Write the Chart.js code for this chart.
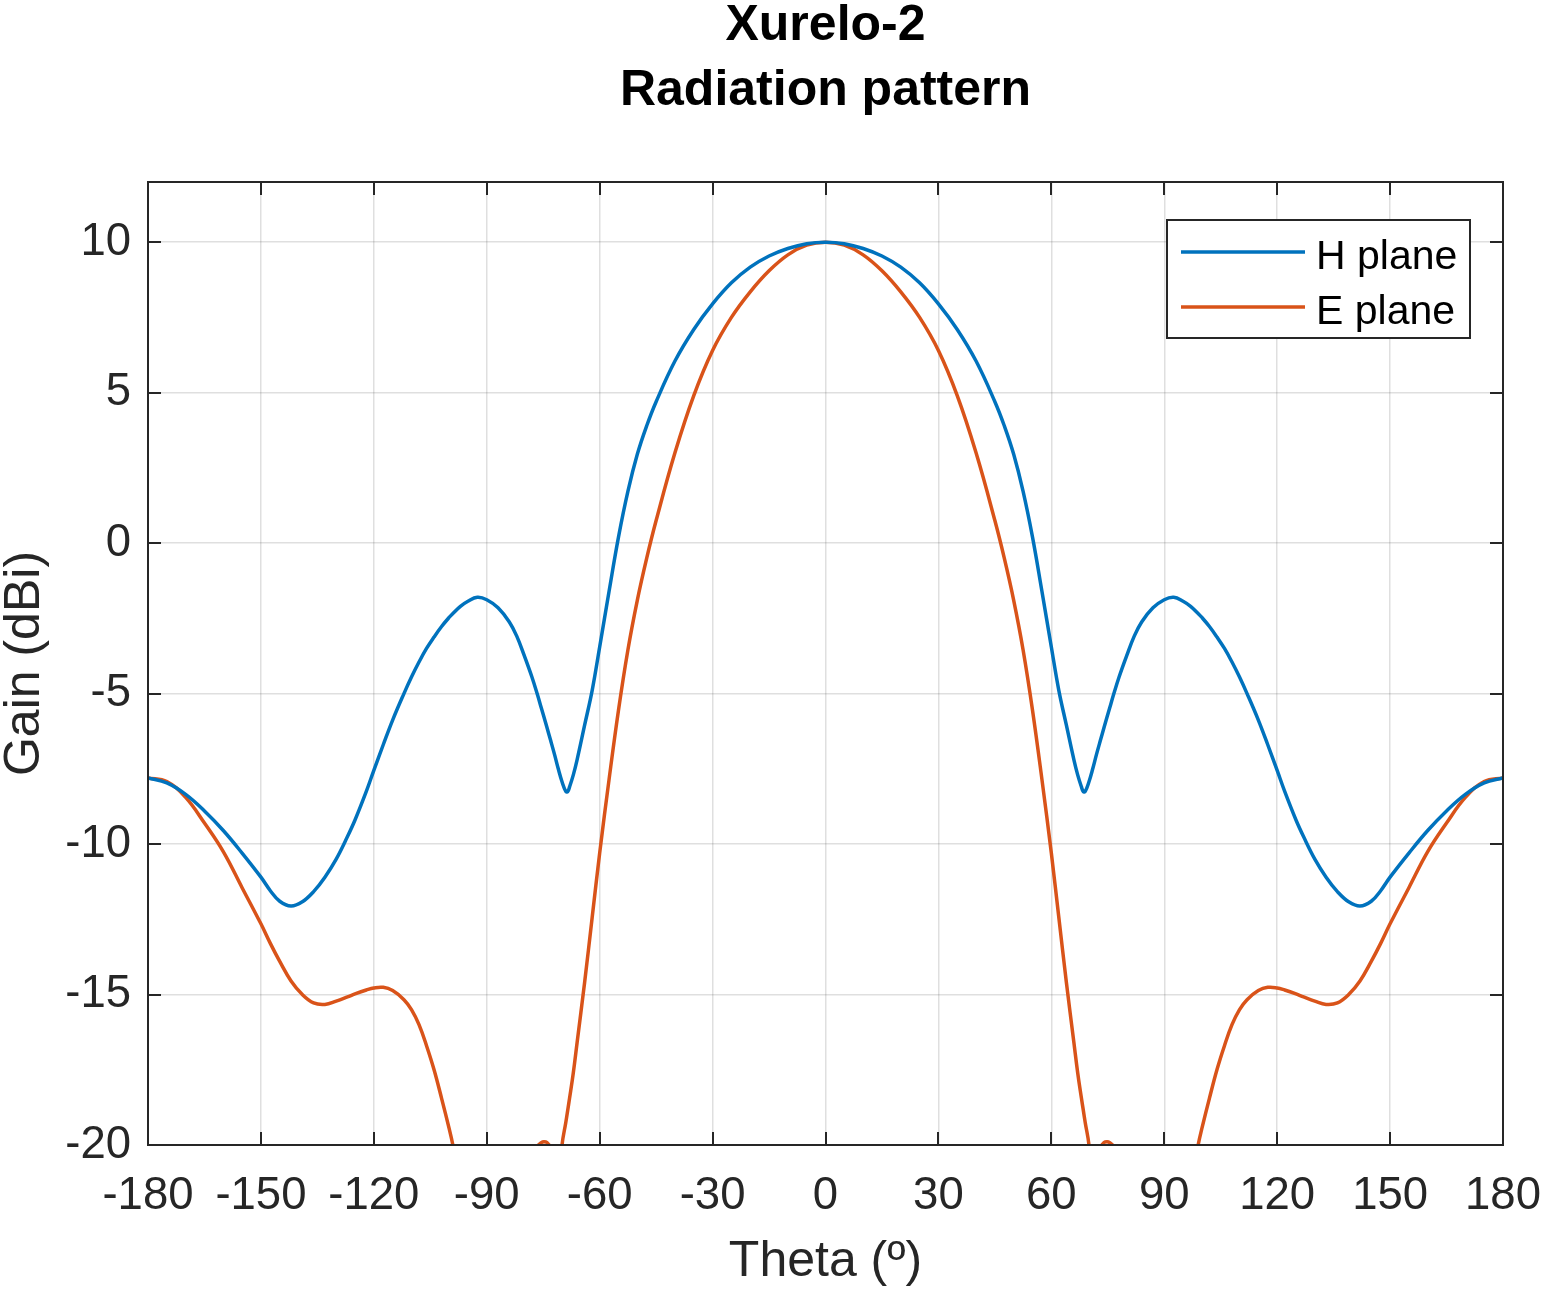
<!DOCTYPE html>
<html>
<head>
<meta charset="utf-8">
<script src="https://cdn.jsdelivr.net/npm/chart.js@4.4.1/dist/chart.umd.min.js"></script>
<style>
html,body{margin:0;padding:0;background:#fff;}
#wrap{width:1542px;height:1290px;}
</style>
</head>
<body>
<div id="wrap"><canvas id="c" width="1542" height="1290"></canvas></div>
<script>
const titleLines = ['Xurelo-2', 'Radiation pattern'];
const xAxisTitle = 'Theta (º)';
const yAxisTitle = 'Gain (dBi)';
const seriesNames = ['H plane', 'E plane'];
const xTicks = [-180, -150, -120, -90, -60, -30, 0, 30, 60, 90, 120, 150, 180];
const yTicks = [-20, -15, -10, -5, 0, 5, 10];

const theta = [
  -180,-175,-170,-165,-160,-155,-150,-147.5,-145,-142,-139,-136,-133,-130,-127,-125,-122,-120,-117.5,-115,-112,-110,-108,-106,-104,-102,-100,-99,-97,-95,-92.5,-90,-87,-84,-82,-80,-78,-76.5,-75.5,-74.8,-74,-73,-72,-71,-70,-69,-68.5,-68,-67,-66,-64,-62,-60,-57.5,-55,-52.5,-50,-47.5,-45,-40,-35,-30,-25,-20,-15,-10,-5,
  0,
  5,10,15,20,25,30,35,40,45,47.5,50,52.5,55,57.5,60,62,64,66,67,68,68.5,69,70,71,72,73,74,74.8,75.5,76.5,78,80,82,84,87,90,92.5,95,97,99,100,102,104,106,108,110,112,115,117.5,120,122,125,127,130,133,136,139,142,145,147.5,150,155,160,165,170,175,180
];

const hPlane = [
  -7.8,-7.97,-8.35,-8.9,-9.55,-10.3,-11.1,-11.55,-11.9,-12.06,-11.92,-11.58,-11.1,-10.5,-9.75,-9.2,-8.25,-7.55,-6.7,-5.88,-5.0,-4.45,-3.95,-3.5,-3.12,-2.77,-2.47,-2.34,-2.1,-1.93,-1.8,-1.88,-2.15,-2.62,-3.1,-3.75,-4.45,-5.05,-5.48,-5.78,-6.13,-6.57,-7.02,-7.5,-7.93,-8.25,-8.26,-8.1,-7.7,-7.2,-6.05,-4.9,-3.45,-1.6,0.2,1.72,2.95,3.9,4.7,6.05,7.1,7.95,8.65,9.17,9.54,9.79,9.95,
  10,
  9.95,9.79,9.54,9.17,8.65,7.95,7.1,6.05,4.7,3.9,2.95,1.72,0.2,-1.6,-3.45,-4.9,-6.05,-7.2,-7.7,-8.1,-8.26,-8.25,-7.93,-7.5,-7.02,-6.57,-6.13,-5.78,-5.48,-5.05,-4.45,-3.75,-3.1,-2.62,-2.15,-1.88,-1.8,-1.93,-2.1,-2.34,-2.47,-2.77,-3.12,-3.5,-3.95,-4.45,-5.0,-5.88,-6.7,-7.55,-8.25,-9.2,-9.75,-10.5,-11.1,-11.58,-11.92,-12.06,-11.9,-11.55,-11.1,-10.3,-9.55,-8.9,-8.35,-7.97,-7.8
];

const ePlane = [
  -7.8,-7.92,-8.45,-9.3,-10.25,-11.45,-12.65,-13.3,-13.9,-14.55,-15.0,-15.28,-15.33,-15.22,-15.08,-14.98,-14.85,-14.78,-14.76,-14.87,-15.17,-15.5,-16.0,-16.7,-17.5,-18.45,-19.45,-20.0,-21.3,-23,-26,-29,-31,-28,-25.5,-23.2,-21.2,-20.05,-19.92,-19.89,-19.92,-20.1,-21.2,-21.6,-20.0,-19.25,-18.85,-18.45,-17.6,-16.6,-14.6,-12.45,-10.3,-7.85,-5.55,-3.55,-1.9,-0.5,0.75,3.0,4.9,6.4,7.5,8.35,9.05,9.58,9.9,
  10,
  9.9,9.58,9.05,8.35,7.5,6.4,4.9,3.0,0.75,-0.5,-1.9,-3.55,-5.55,-7.85,-10.3,-12.45,-14.6,-16.6,-17.6,-18.45,-18.85,-19.25,-20.0,-21.6,-21.2,-20.1,-19.92,-19.89,-19.92,-20.05,-21.2,-23.2,-25.5,-28,-31,-29,-26,-23,-21.3,-20.0,-19.45,-18.45,-17.5,-16.7,-16.0,-15.5,-15.17,-14.87,-14.76,-14.78,-14.85,-14.98,-15.08,-15.22,-15.33,-15.28,-15.0,-14.55,-13.9,-13.3,-12.65,-11.45,-10.25,-9.3,-8.45,-7.92,-7.8
];

const FONT = "'Liberation Sans', Arial, Helvetica, sans-serif";
const AXIS_COLOR = '#262626';
const colors = ['#0072BD', '#D95319'];

const boxAndTicks = {
  id: 'boxAndTicks',
  afterDatasetsDraw(chart) {
    const {ctx, chartArea: a, scales} = chart;
    ctx.save();
    ctx.strokeStyle = AXIS_COLOR;
    ctx.lineWidth = 2;
    ctx.strokeRect(a.left, a.top, a.right - a.left, a.bottom - a.top);
    const tl = 13;
    ctx.beginPath();
    scales.x.ticks.forEach(t => {
      const px = Math.round(scales.x.getPixelForValue(t.value));
      ctx.moveTo(px, a.bottom); ctx.lineTo(px, a.bottom - tl);
      ctx.moveTo(px, a.top); ctx.lineTo(px, a.top + tl);
    });
    scales.y.ticks.forEach(t => {
      const py = Math.round(scales.y.getPixelForValue(t.value));
      ctx.moveTo(a.left, py); ctx.lineTo(a.left + tl, py);
      ctx.moveTo(a.right, py); ctx.lineTo(a.right - tl, py);
    });
    ctx.stroke();
    ctx.restore();
  }
};

const titleAndLegend = {
  id: 'titleAndLegend',
  afterDraw(chart) {
    const {ctx, chartArea: a} = chart;
    ctx.save();
    const cx = (a.left + a.right) / 2;
    ctx.fillStyle = '#000';
    ctx.font = 'bold 50px ' + FONT;
    ctx.textAlign = 'center';
    ctx.textBaseline = 'alphabetic';
    titleLines.forEach((line, i) => ctx.fillText(line, cx, 40 + i * 64.5));

    const bx = a.right - 336, by = a.top + 38, bw = 303, bh = 118;
    ctx.fillStyle = '#fff';
    ctx.fillRect(bx, by, bw, bh);
    ctx.strokeStyle = AXIS_COLOR;
    ctx.lineWidth = 2;
    ctx.strokeRect(bx, by, bw, bh);
    ctx.font = '41px ' + FONT;
    ctx.textBaseline = 'alphabetic';
    ctx.textAlign = 'left';
    chart.data.datasets.forEach((ds, i) => {
      const y = by + 32 + i * 55;
      ctx.strokeStyle = ds.borderColor;
      ctx.lineWidth = 3.5;
      ctx.beginPath();
      ctx.moveTo(bx + 14, y); ctx.lineTo(bx + 138, y);
      ctx.stroke();
      ctx.fillStyle = '#000';
      ctx.fillText(ds.label, bx + 149, y + 17);
    });
    ctx.restore();
  }
};

new Chart(document.getElementById('c'), {
  type: 'line',
  data: {
    datasets: [
      { label: seriesNames[0], data: theta.map((t, i) => ({x: t, y: hPlane[i]})), borderColor: colors[0], backgroundColor: colors[0] },
      { label: seriesNames[1], data: theta.map((t, i) => ({x: t, y: ePlane[i]})), borderColor: colors[1], backgroundColor: colors[1] }
    ]
  },
  options: {
    responsive: false,
    animation: false,
    devicePixelRatio: 1,
    layout: { padding: { left: 0, right: 39, top: 182, bottom: 0 } },
    elements: {
      point: { radius: 0 },
      line: { borderWidth: 3.5, cubicInterpolationMode: 'default', tension: 0.4, fill: false }
    },
    plugins: {
      legend: { display: false },
      tooltip: { enabled: false },
      title: { display: false }
    },
    scales: {
      x: {
        type: 'linear',
        min: -180, max: 180,
        afterBuildTicks: s => { s.ticks = xTicks.map(v => ({value: v})); },
        afterFit: s => { s.height = 145; s.paddingLeft = 0; s.paddingRight = 0; },
        ticks: { color: AXIS_COLOR, font: { family: FONT, size: 45.5 }, padding: 24, maxRotation: 0, autoSkip: false, callback: v => String(v) },
        grid: { color: 'rgba(38,38,38,0.15)', lineWidth: 1.5, drawTicks: false },
        border: { display: false },
        title: { display: true, text: xAxisTitle, color: AXIS_COLOR, font: { family: FONT, size: 50, lineHeight: 1 }, padding: { top: 0, bottom: 3 } }
      },
      y: {
        type: 'linear',
        min: -20, max: 12,
        afterBuildTicks: s => { s.ticks = yTicks.map(v => ({value: v})); },
        afterFit: s => { s.width = 148; s.paddingTop = 0; s.paddingBottom = 0; },
        ticks: { color: AXIS_COLOR, font: { family: FONT, size: 45.5 }, padding: 17, autoSkip: false, callback: v => String(v) },
        grid: { color: 'rgba(38,38,38,0.15)', lineWidth: 1.5, drawTicks: false },
        border: { display: false },
        title: { display: true, text: yAxisTitle, color: AXIS_COLOR, font: { family: FONT, size: 50, lineHeight: 1 }, padding: { top: 0, bottom: 0 } }
      }
    }
  },
  plugins: [boxAndTicks, titleAndLegend]
});
</script>
</body>
</html>
